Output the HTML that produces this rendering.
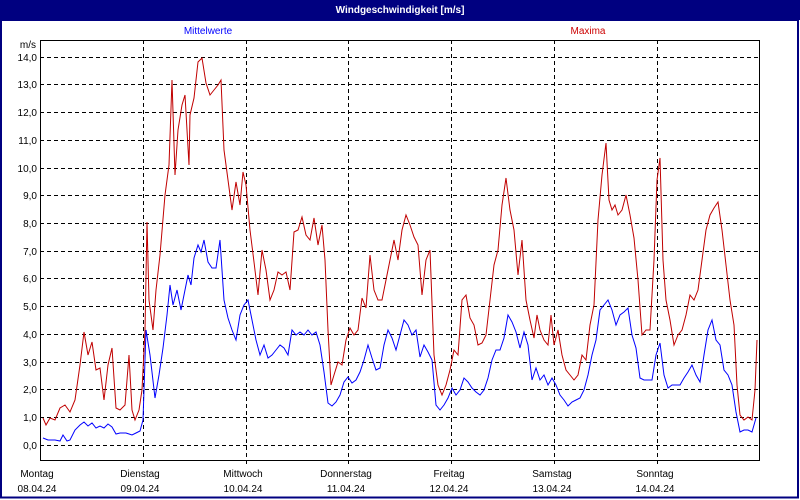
<!DOCTYPE html>
<html><head><meta charset="utf-8"><style>
html,body{margin:0;padding:0;width:800px;height:500px;overflow:hidden;background:#fff}
svg{display:block}
text{font-family:"Liberation Sans",sans-serif;font-size:10px}
</style></head><body>
<svg width="800" height="500" viewBox="0 0 800 500">
<rect x="0" y="0" width="800" height="500" fill="#fff"/>
<rect x="0" y="0" width="800" height="20" fill="#000080"/>
<text x="400" y="13" fill="#fff" text-anchor="middle" font-weight="bold">Windgeschwindigkeit [m/s]</text>
<rect x="1" y="20" width="797" height="477.5" fill="none" stroke="#000080" stroke-width="2"/>
<text x="208" y="34" fill="#0000ff" text-anchor="middle">Mittelwerte</text>
<text x="588" y="34" fill="#cc0000" text-anchor="middle">Maxima</text>
<text x="36" y="48" text-anchor="end">m/s</text>
<g stroke="#000" stroke-width="1" stroke-dasharray="4,3" shape-rendering="crispEdges">
<line x1="40" x2="760" y1="445.5" y2="445.5"/><line x1="40" x2="760" y1="417.5" y2="417.5"/><line x1="40" x2="760" y1="389.5" y2="389.5"/><line x1="40" x2="760" y1="362.5" y2="362.5"/><line x1="40" x2="760" y1="334.5" y2="334.5"/><line x1="40" x2="760" y1="306.5" y2="306.5"/><line x1="40" x2="760" y1="278.5" y2="278.5"/><line x1="40" x2="760" y1="251.5" y2="251.5"/><line x1="40" x2="760" y1="223.5" y2="223.5"/><line x1="40" x2="760" y1="195.5" y2="195.5"/><line x1="40" x2="760" y1="168.5" y2="168.5"/><line x1="40" x2="760" y1="140.5" y2="140.5"/><line x1="40" x2="760" y1="112.5" y2="112.5"/><line x1="40" x2="760" y1="84.5" y2="84.5"/><line x1="40" x2="760" y1="57.5" y2="57.5"/>
<line x1="143.5" x2="143.5" y1="40" y2="466"/><line x1="246.5" x2="246.5" y1="40" y2="466"/><line x1="348.5" x2="348.5" y1="40" y2="466"/><line x1="451.5" x2="451.5" y1="40" y2="466"/><line x1="554.5" x2="554.5" y1="40" y2="466"/><line x1="657.5" x2="657.5" y1="40" y2="466"/>
</g>
<rect x="40.5" y="40.5" width="719" height="420" fill="none" stroke="#000" stroke-width="1.2" shape-rendering="crispEdges"/>
<g text-anchor="end">
<text x="37" y="449">0,0</text><text x="37" y="421">1,0</text><text x="37" y="393">2,0</text><text x="37" y="366">3,0</text><text x="37" y="338">4,0</text><text x="37" y="310">5,0</text><text x="37" y="282">6,0</text><text x="37" y="255">7,0</text><text x="37" y="227">8,0</text><text x="37" y="199">9,0</text><text x="37" y="172">10,0</text><text x="37" y="144">11,0</text><text x="37" y="116">12,0</text><text x="37" y="88">13,0</text><text x="37" y="61">14,0</text>
</g>
<g text-anchor="middle">
<text x="37" y="477">Montag</text><text x="37" y="492">08.04.24</text>
<text x="140" y="477">Dienstag</text><text x="140" y="492">09.04.24</text>
<text x="243" y="477">Mittwoch</text><text x="243" y="492">10.04.24</text>
<text x="346" y="477">Donnerstag</text><text x="346" y="492">11.04.24</text>
<text x="449" y="477">Freitag</text><text x="449" y="492">12.04.24</text>
<text x="552" y="477">Samstag</text><text x="552" y="492">13.04.24</text>
<text x="655" y="477">Sonntag</text><text x="655" y="492">14.04.24</text>
</g>
<polyline fill="none" stroke="#c00000" stroke-width="1" points="43,418 46,425 50,418 55,420 60,408 65,405 70,412 75,400 80,365 84,332 88,355 92,342 96,370 100,368 104,400 108,365 112,348 116,408 120,410 125,405 129,355 132,410 135,420 139,410 142,390 145,330 147,222 149,300 153,330 156,290 160,255 165,195 169,165 172,80 175,175 178,130 182,105 185,95 189,165 190,115 194,98 198,62 202,58 206,83 210,95 214,90 218,85 221,80 224,150 228,180 232,210 236,182 240,205 243,172 246,185 250,230 254,262 258,295 262,250 266,270 270,300 274,290 278,272 282,275 286,272 290,290 294,232 298,230 302,217 306,235 310,240 314,218 318,245 322,225 325,260 328,330 331,385 334,375 338,362 342,365 346,340 350,328 354,335 358,330 362,298 366,308 370,255 374,290 378,300 382,300 386,280 390,260 394,240 398,260 402,230 406,215 410,225 414,237 418,245 422,295 426,260 430,250 434,355 438,385 442,395 446,385 450,370 454,350 458,355 462,300 466,295 470,318 474,325 478,345 482,343 486,335 490,300 494,265 498,250 502,205 506,178 510,210 514,230 518,275 522,240 526,300 530,320 534,338 537,315 540,330 544,340 548,345 551,315 554,345 558,330 562,355 566,370 570,375 574,380 578,375 582,355 586,360 590,325 594,305 598,220 602,175 606,143 609,200 612,210 615,205 618,215 622,210 626,195 630,215 634,238 638,280 642,335 646,330 650,330 654,260 657,180 660,158 663,260 666,300 670,320 674,345 678,335 682,330 686,315 690,295 694,300 698,290 702,260 706,230 710,215 714,208 718,202 722,230 726,265 730,300 734,325 737,385 740,415 744,420 748,417 752,420 755,390 757,340"/>
<polyline fill="none" stroke="#0000ff" stroke-width="1" points="43,438 48,440 55,440 60,441 63,435 67,441 70,440 75,430 80,425 84,422 88,426 92,423 96,428 100,426 104,428 108,424 112,427 116,434 120,433 126,433 132,435 136,433 140,431 143,420 146,330 150,355 155,398 159,375 163,348 167,315 170,285 173,305 177,290 181,310 184,295 188,275 191,285 194,258 198,245 201,252 204,240 208,262 212,268 216,268 220,240 224,300 228,318 232,330 236,340 240,315 244,305 248,300 252,320 256,340 260,355 264,345 268,358 272,355 276,350 280,345 284,348 288,355 292,330 296,335 300,332 304,335 308,330 312,335 316,332 320,345 324,372 328,403 332,406 336,402 340,395 344,382 348,377 352,383 356,380 360,372 364,360 368,345 372,358 376,370 380,368 384,345 388,330 392,338 396,350 400,335 404,320 408,325 412,335 416,330 420,357 424,345 428,352 432,360 436,405 440,410 444,405 448,398 452,388 456,395 460,390 464,378 468,382 472,388 476,392 480,395 484,390 488,378 492,360 496,350 500,350 504,338 508,315 512,322 516,332 520,348 524,332 528,345 532,380 536,368 540,380 544,375 548,385 552,378 556,385 560,395 564,400 568,406 572,402 576,400 580,398 584,390 588,375 592,355 596,340 600,310 604,305 608,300 612,310 616,325 620,315 624,312 628,308 632,335 636,348 640,378 644,380 648,380 652,380 656,355 660,343 664,375 668,388 672,385 676,385 680,385 684,378 688,372 692,365 696,375 700,382 704,355 708,330 712,320 716,340 720,345 724,370 728,375 732,385 736,412 740,432 744,430 748,430 752,432 756,418"/>
</svg>
</body></html>
